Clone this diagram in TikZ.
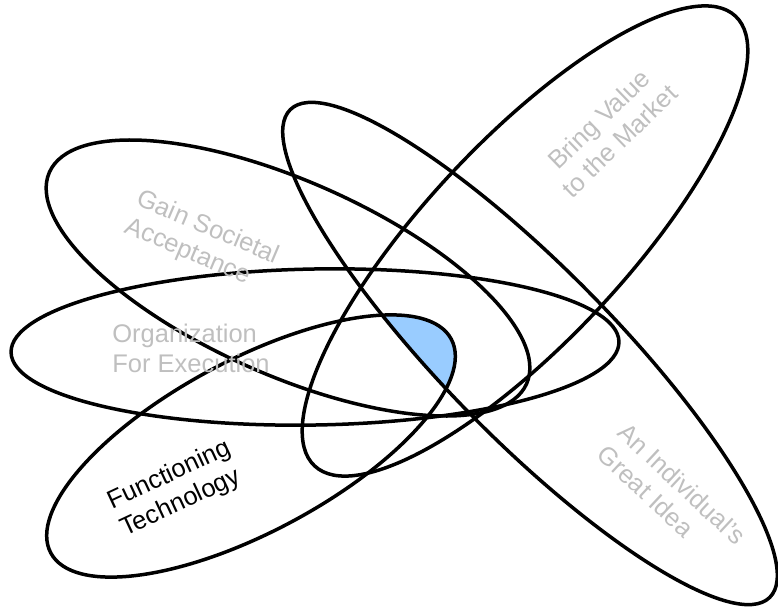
\documentclass[tikz,border=0pt]{standalone}
\usepackage{fontspec}
\setmainfont{Liberation Sans}
\definecolor{coreblue}{RGB}{153,204,255}
\tikzset{
  ring/.style={draw=black, line width=3.5pt},
  core/.style={fill=coreblue},
  goaltext/.style={font=\fontsize{25.5}{30}\selectfont, text=gray!50,
    align=left, inner sep=0pt},
  techtext/.style={goaltext, text=black},
  % one rotation per ellipse
  ringO/.style={rotate around={1:(315,259)}},
  ringG/.style={rotate around={-23.9:(288,328)}},
  ringF/.style={rotate around={28.1:(251,160)}},
  ringB/.style={rotate around={46.9:(525,365)}},
  ringI/.style={rotate around={-45.5:(530,252.5)}},
}

\begin{document}
\begin{tikzpicture}[x=1pt, y=1pt]
\useasboundingbox (0,0) rectangle (778,606);

%% ---- COMMON CORE (all five overlap) ----
\begin{scope}
  \clip[ringO] (315,259) ellipse [x radius=304pt, y radius=78pt];
  \clip[ringG] (288,328) ellipse [x radius=261pt, y radius=97pt];
  \clip[ringB] (525,365) ellipse [x radius=308pt, y radius=100pt];
  \clip[ringI] (530,252.5) ellipse [x radius=342pt, y radius=85pt];
  \fill[core, ringF] (251,160) ellipse [x radius=227pt, y radius=86pt];
\end{scope}

%% ---- RINGS ----
\draw[ring, ringO] (315,259) ellipse [x radius=304pt, y radius=78pt];
\draw[ring, ringG] (288,328) ellipse [x radius=261pt, y radius=97pt];
\draw[ring, ringB] (525,365) ellipse [x radius=308pt, y radius=100pt];
\draw[ring, ringI] (530,252.5) ellipse [x radius=342pt, y radius=85pt];
\draw[ring, ringF] (251,160) ellipse [x radius=227pt, y radius=86pt];

%% ---- TEXTS ----
\node[goaltext] (orgtext) at (191,258) {Organization\\For Execution};
\node[goaltext, rotate=-23] (gaintext) at (202,364) {Gain Societal\\Acceptance};
\node[goaltext, align=center, rotate=44] (valuetext) at (609,476) {Bring Value\\to the Market};
\node[goaltext, rotate=-43] (ideatext) at (672,111) {An Individual's\\Great Idea};
\node[techtext, rotate=25] (techtext) at (176,117) {Functioning\\Technology};

\end{tikzpicture}
\end{document}
